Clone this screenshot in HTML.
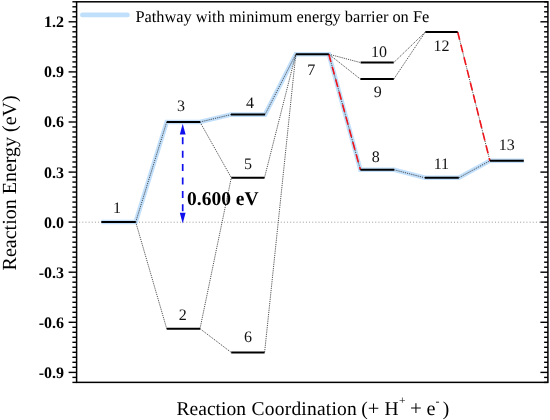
<!DOCTYPE html><html><head><meta charset="utf-8"><style>html,body{margin:0;padding:0;background:#fff;width:550px;height:420px;overflow:hidden}svg{display:block;will-change:transform}text{font-family:"Liberation Serif",serif;text-rendering:geometricPrecision}</style></head><body>
<svg width="550" height="420" viewBox="0 0 550 420">
<rect width="550" height="420" fill="#fff"/>
<line x1="76.6" y1="222.2" x2="547.9" y2="222.2" stroke="#9a9a9a" stroke-width="1" stroke-dasharray="1 2.15" stroke-dashoffset="0.6"/>
<polyline points="101.3,222.0 135.7,222.0 166.7,122.0 200.0,122.0 231.0,114.6 265.0,114.6 295.8,54.2 328.8,54.2 360.4,169.8 394.2,169.8 424.9,177.8 458.8,177.8 489.9,160.8 523.8,160.8" fill="none" stroke="#c2e0fb" stroke-width="4.6" stroke-linejoin="miter" stroke-linecap="butt"/>
<line x1="135.7" y1="222.0" x2="166.7" y2="122.0" stroke="#333" stroke-width="0.85" stroke-dasharray="1.2 1.0"/>
<line x1="135.7" y1="222.0" x2="166.7" y2="328.7" stroke="#333" stroke-width="0.85" stroke-dasharray="1.2 1.0"/>
<line x1="200.0" y1="122.0" x2="231.0" y2="114.6" stroke="#333" stroke-width="0.85" stroke-dasharray="1.2 1.0"/>
<line x1="200.0" y1="122.0" x2="231.3" y2="177.7" stroke="#333" stroke-width="0.85" stroke-dasharray="1.2 1.0"/>
<line x1="200.0" y1="328.7" x2="231.3" y2="177.7" stroke="#333" stroke-width="0.85" stroke-dasharray="1.2 1.0"/>
<line x1="200.0" y1="328.7" x2="231.2" y2="352.4" stroke="#333" stroke-width="0.85" stroke-dasharray="1.2 1.0"/>
<line x1="265.0" y1="114.6" x2="295.8" y2="54.2" stroke="#333" stroke-width="0.85" stroke-dasharray="1.2 1.0"/>
<line x1="264.5" y1="177.7" x2="295.8" y2="54.2" stroke="#333" stroke-width="0.85" stroke-dasharray="1.2 1.0"/>
<line x1="264.6" y1="352.4" x2="295.8" y2="54.2" stroke="#333" stroke-width="0.85" stroke-dasharray="1.2 1.0"/>
<line x1="328.8" y1="54.2" x2="360.4" y2="169.8" stroke="#333" stroke-width="0.85" stroke-dasharray="1.2 1.0"/>
<line x1="328.8" y1="54.2" x2="360.4" y2="79.1" stroke="#333" stroke-width="0.85" stroke-dasharray="1.2 1.0"/>
<line x1="328.8" y1="54.2" x2="360.6" y2="62.6" stroke="#333" stroke-width="0.85" stroke-dasharray="1.2 1.0"/>
<line x1="393.8" y1="79.1" x2="425.3" y2="32.0" stroke="#333" stroke-width="0.85" stroke-dasharray="1.2 1.0"/>
<line x1="393.7" y1="62.6" x2="425.3" y2="32.0" stroke="#333" stroke-width="0.85" stroke-dasharray="1.2 1.0"/>
<line x1="394.2" y1="169.8" x2="424.9" y2="177.8" stroke="#333" stroke-width="0.85" stroke-dasharray="1.2 1.0"/>
<line x1="457.7" y1="32.0" x2="489.9" y2="160.8" stroke="#333" stroke-width="0.85" stroke-dasharray="1.2 1.0"/>
<line x1="458.8" y1="177.8" x2="489.9" y2="160.8" stroke="#333" stroke-width="0.85" stroke-dasharray="1.2 1.0"/>
<line x1="328.8" y1="54.2" x2="360.4" y2="169.8" stroke="#f2161c" stroke-width="1.6" stroke-dasharray="8 5"/>
<line x1="457.7" y1="32.0" x2="489.9" y2="160.8" stroke="#f2161c" stroke-width="1.6" stroke-dasharray="8 5"/>
<line x1="101.3" y1="222.0" x2="135.7" y2="222.0" stroke="#000" stroke-width="2"/>
<line x1="166.7" y1="328.7" x2="200.0" y2="328.7" stroke="#000" stroke-width="2"/>
<line x1="166.7" y1="122.0" x2="200.0" y2="122.0" stroke="#000" stroke-width="2"/>
<line x1="231.0" y1="114.6" x2="265.0" y2="114.6" stroke="#000" stroke-width="2"/>
<line x1="231.3" y1="177.7" x2="264.5" y2="177.7" stroke="#000" stroke-width="2"/>
<line x1="231.2" y1="352.4" x2="264.6" y2="352.4" stroke="#000" stroke-width="2"/>
<line x1="295.8" y1="54.2" x2="328.8" y2="54.2" stroke="#000" stroke-width="2"/>
<line x1="360.4" y1="169.8" x2="394.2" y2="169.8" stroke="#000" stroke-width="2"/>
<line x1="360.4" y1="79.1" x2="393.8" y2="79.1" stroke="#000" stroke-width="2"/>
<line x1="360.6" y1="62.6" x2="393.7" y2="62.6" stroke="#000" stroke-width="2"/>
<line x1="424.9" y1="177.8" x2="458.8" y2="177.8" stroke="#000" stroke-width="2"/>
<line x1="425.3" y1="32.0" x2="457.7" y2="32.0" stroke="#000" stroke-width="2"/>
<line x1="489.9" y1="160.8" x2="523.8" y2="160.8" stroke="#000" stroke-width="2"/>
<text x="117.0" y="213.2" font-size="16" text-anchor="middle" fill="#111">1</text>
<text x="182.7" y="320.1" font-size="16" text-anchor="middle" fill="#111">2</text>
<text x="181.1" y="111.4" font-size="16" text-anchor="middle" fill="#111">3</text>
<text x="249.9" y="108.1" font-size="16" text-anchor="middle" fill="#111">4</text>
<text x="247.9" y="168.6" font-size="16" text-anchor="middle" fill="#111">5</text>
<text x="247.9" y="341.8" font-size="16" text-anchor="middle" fill="#111">6</text>
<text x="311.3" y="74.5" font-size="16" text-anchor="middle" fill="#111">7</text>
<text x="375.7" y="161.8" font-size="16" text-anchor="middle" fill="#111">8</text>
<text x="377.7" y="97.4" font-size="16" text-anchor="middle" fill="#111">9</text>
<text x="378.9" y="57.2" font-size="16" text-anchor="middle" fill="#111">10</text>
<text x="441.4" y="169.3" font-size="16" text-anchor="middle" fill="#111">11</text>
<text x="441.6" y="51.0" font-size="16" text-anchor="middle" fill="#111">12</text>
<text x="506.8" y="150.3" font-size="16" text-anchor="middle" fill="#111">13</text>
<line x1="182.7" y1="137.3" x2="182.7" y2="212" stroke="#1010ee" stroke-width="1.7" stroke-dasharray="7 6.4"/>
<polygon points="182.7,123.8 179.79999999999998,134.6 185.6,134.6" fill="#1010ee"/>
<polygon points="182.7,223.5 179.79999999999998,212.8 185.6,212.8" fill="#1010ee"/>
<text x="187" y="204.5" font-size="19.5" font-weight="bold" fill="#000">0.600 eV</text>
<rect x="76.6" y="1.8" width="471.30" height="380.57" fill="none" stroke="#000" stroke-width="1.5"/>
<line x1="72.4" y1="1.8" x2="76.6" y2="1.8" stroke="#000" stroke-width="1.4"/>
<line x1="544.1" y1="1.8" x2="547.9" y2="1.8" stroke="#000" stroke-width="1.4"/>
<line x1="72.4" y1="6.8" x2="76.6" y2="6.8" stroke="#000" stroke-width="1.4"/>
<line x1="544.1" y1="6.8" x2="547.9" y2="6.8" stroke="#000" stroke-width="1.4"/>
<line x1="72.4" y1="11.8" x2="76.6" y2="11.8" stroke="#000" stroke-width="1.4"/>
<line x1="544.1" y1="11.8" x2="547.9" y2="11.8" stroke="#000" stroke-width="1.4"/>
<line x1="72.4" y1="16.8" x2="76.6" y2="16.8" stroke="#000" stroke-width="1.4"/>
<line x1="544.1" y1="16.8" x2="547.9" y2="16.8" stroke="#000" stroke-width="1.4"/>
<line x1="68.6" y1="21.8" x2="76.6" y2="21.8" stroke="#000" stroke-width="1.4"/>
<line x1="540.4" y1="21.8" x2="547.9" y2="21.8" stroke="#000" stroke-width="1.4"/>
<line x1="72.4" y1="26.8" x2="76.6" y2="26.8" stroke="#000" stroke-width="1.4"/>
<line x1="544.1" y1="26.8" x2="547.9" y2="26.8" stroke="#000" stroke-width="1.4"/>
<line x1="72.4" y1="31.8" x2="76.6" y2="31.8" stroke="#000" stroke-width="1.4"/>
<line x1="544.1" y1="31.8" x2="547.9" y2="31.8" stroke="#000" stroke-width="1.4"/>
<line x1="72.4" y1="36.9" x2="76.6" y2="36.9" stroke="#000" stroke-width="1.4"/>
<line x1="544.1" y1="36.9" x2="547.9" y2="36.9" stroke="#000" stroke-width="1.4"/>
<line x1="72.4" y1="41.9" x2="76.6" y2="41.9" stroke="#000" stroke-width="1.4"/>
<line x1="544.1" y1="41.9" x2="547.9" y2="41.9" stroke="#000" stroke-width="1.4"/>
<line x1="72.4" y1="46.9" x2="76.6" y2="46.9" stroke="#000" stroke-width="1.4"/>
<line x1="544.1" y1="46.9" x2="547.9" y2="46.9" stroke="#000" stroke-width="1.4"/>
<line x1="72.4" y1="51.9" x2="76.6" y2="51.9" stroke="#000" stroke-width="1.4"/>
<line x1="544.1" y1="51.9" x2="547.9" y2="51.9" stroke="#000" stroke-width="1.4"/>
<line x1="72.4" y1="56.9" x2="76.6" y2="56.9" stroke="#000" stroke-width="1.4"/>
<line x1="544.1" y1="56.9" x2="547.9" y2="56.9" stroke="#000" stroke-width="1.4"/>
<line x1="72.4" y1="61.9" x2="76.6" y2="61.9" stroke="#000" stroke-width="1.4"/>
<line x1="544.1" y1="61.9" x2="547.9" y2="61.9" stroke="#000" stroke-width="1.4"/>
<line x1="72.4" y1="66.9" x2="76.6" y2="66.9" stroke="#000" stroke-width="1.4"/>
<line x1="544.1" y1="66.9" x2="547.9" y2="66.9" stroke="#000" stroke-width="1.4"/>
<line x1="68.6" y1="71.9" x2="76.6" y2="71.9" stroke="#000" stroke-width="1.4"/>
<line x1="540.4" y1="71.9" x2="547.9" y2="71.9" stroke="#000" stroke-width="1.4"/>
<line x1="72.4" y1="76.9" x2="76.6" y2="76.9" stroke="#000" stroke-width="1.4"/>
<line x1="544.1" y1="76.9" x2="547.9" y2="76.9" stroke="#000" stroke-width="1.4"/>
<line x1="72.4" y1="81.9" x2="76.6" y2="81.9" stroke="#000" stroke-width="1.4"/>
<line x1="544.1" y1="81.9" x2="547.9" y2="81.9" stroke="#000" stroke-width="1.4"/>
<line x1="72.4" y1="86.9" x2="76.6" y2="86.9" stroke="#000" stroke-width="1.4"/>
<line x1="544.1" y1="86.9" x2="547.9" y2="86.9" stroke="#000" stroke-width="1.4"/>
<line x1="72.4" y1="91.9" x2="76.6" y2="91.9" stroke="#000" stroke-width="1.4"/>
<line x1="544.1" y1="91.9" x2="547.9" y2="91.9" stroke="#000" stroke-width="1.4"/>
<line x1="72.4" y1="96.9" x2="76.6" y2="96.9" stroke="#000" stroke-width="1.4"/>
<line x1="544.1" y1="96.9" x2="547.9" y2="96.9" stroke="#000" stroke-width="1.4"/>
<line x1="72.4" y1="102.0" x2="76.6" y2="102.0" stroke="#000" stroke-width="1.4"/>
<line x1="544.1" y1="102.0" x2="547.9" y2="102.0" stroke="#000" stroke-width="1.4"/>
<line x1="72.4" y1="107.0" x2="76.6" y2="107.0" stroke="#000" stroke-width="1.4"/>
<line x1="544.1" y1="107.0" x2="547.9" y2="107.0" stroke="#000" stroke-width="1.4"/>
<line x1="72.4" y1="112.0" x2="76.6" y2="112.0" stroke="#000" stroke-width="1.4"/>
<line x1="544.1" y1="112.0" x2="547.9" y2="112.0" stroke="#000" stroke-width="1.4"/>
<line x1="72.4" y1="117.0" x2="76.6" y2="117.0" stroke="#000" stroke-width="1.4"/>
<line x1="544.1" y1="117.0" x2="547.9" y2="117.0" stroke="#000" stroke-width="1.4"/>
<line x1="68.6" y1="122.0" x2="76.6" y2="122.0" stroke="#000" stroke-width="1.4"/>
<line x1="540.4" y1="122.0" x2="547.9" y2="122.0" stroke="#000" stroke-width="1.4"/>
<line x1="72.4" y1="127.0" x2="76.6" y2="127.0" stroke="#000" stroke-width="1.4"/>
<line x1="544.1" y1="127.0" x2="547.9" y2="127.0" stroke="#000" stroke-width="1.4"/>
<line x1="72.4" y1="132.0" x2="76.6" y2="132.0" stroke="#000" stroke-width="1.4"/>
<line x1="544.1" y1="132.0" x2="547.9" y2="132.0" stroke="#000" stroke-width="1.4"/>
<line x1="72.4" y1="137.0" x2="76.6" y2="137.0" stroke="#000" stroke-width="1.4"/>
<line x1="544.1" y1="137.0" x2="547.9" y2="137.0" stroke="#000" stroke-width="1.4"/>
<line x1="72.4" y1="142.0" x2="76.6" y2="142.0" stroke="#000" stroke-width="1.4"/>
<line x1="544.1" y1="142.0" x2="547.9" y2="142.0" stroke="#000" stroke-width="1.4"/>
<line x1="72.4" y1="147.0" x2="76.6" y2="147.0" stroke="#000" stroke-width="1.4"/>
<line x1="544.1" y1="147.0" x2="547.9" y2="147.0" stroke="#000" stroke-width="1.4"/>
<line x1="72.4" y1="152.0" x2="76.6" y2="152.0" stroke="#000" stroke-width="1.4"/>
<line x1="544.1" y1="152.0" x2="547.9" y2="152.0" stroke="#000" stroke-width="1.4"/>
<line x1="72.4" y1="157.0" x2="76.6" y2="157.0" stroke="#000" stroke-width="1.4"/>
<line x1="544.1" y1="157.0" x2="547.9" y2="157.0" stroke="#000" stroke-width="1.4"/>
<line x1="72.4" y1="162.0" x2="76.6" y2="162.0" stroke="#000" stroke-width="1.4"/>
<line x1="544.1" y1="162.0" x2="547.9" y2="162.0" stroke="#000" stroke-width="1.4"/>
<line x1="72.4" y1="167.0" x2="76.6" y2="167.0" stroke="#000" stroke-width="1.4"/>
<line x1="544.1" y1="167.0" x2="547.9" y2="167.0" stroke="#000" stroke-width="1.4"/>
<line x1="68.6" y1="172.1" x2="76.6" y2="172.1" stroke="#000" stroke-width="1.4"/>
<line x1="540.4" y1="172.1" x2="547.9" y2="172.1" stroke="#000" stroke-width="1.4"/>
<line x1="72.4" y1="177.1" x2="76.6" y2="177.1" stroke="#000" stroke-width="1.4"/>
<line x1="544.1" y1="177.1" x2="547.9" y2="177.1" stroke="#000" stroke-width="1.4"/>
<line x1="72.4" y1="182.1" x2="76.6" y2="182.1" stroke="#000" stroke-width="1.4"/>
<line x1="544.1" y1="182.1" x2="547.9" y2="182.1" stroke="#000" stroke-width="1.4"/>
<line x1="72.4" y1="187.1" x2="76.6" y2="187.1" stroke="#000" stroke-width="1.4"/>
<line x1="544.1" y1="187.1" x2="547.9" y2="187.1" stroke="#000" stroke-width="1.4"/>
<line x1="72.4" y1="192.1" x2="76.6" y2="192.1" stroke="#000" stroke-width="1.4"/>
<line x1="544.1" y1="192.1" x2="547.9" y2="192.1" stroke="#000" stroke-width="1.4"/>
<line x1="72.4" y1="197.1" x2="76.6" y2="197.1" stroke="#000" stroke-width="1.4"/>
<line x1="544.1" y1="197.1" x2="547.9" y2="197.1" stroke="#000" stroke-width="1.4"/>
<line x1="72.4" y1="202.1" x2="76.6" y2="202.1" stroke="#000" stroke-width="1.4"/>
<line x1="544.1" y1="202.1" x2="547.9" y2="202.1" stroke="#000" stroke-width="1.4"/>
<line x1="72.4" y1="207.1" x2="76.6" y2="207.1" stroke="#000" stroke-width="1.4"/>
<line x1="544.1" y1="207.1" x2="547.9" y2="207.1" stroke="#000" stroke-width="1.4"/>
<line x1="72.4" y1="212.1" x2="76.6" y2="212.1" stroke="#000" stroke-width="1.4"/>
<line x1="544.1" y1="212.1" x2="547.9" y2="212.1" stroke="#000" stroke-width="1.4"/>
<line x1="72.4" y1="217.1" x2="76.6" y2="217.1" stroke="#000" stroke-width="1.4"/>
<line x1="544.1" y1="217.1" x2="547.9" y2="217.1" stroke="#000" stroke-width="1.4"/>
<line x1="68.6" y1="222.1" x2="76.6" y2="222.1" stroke="#000" stroke-width="1.4"/>
<line x1="540.4" y1="222.1" x2="547.9" y2="222.1" stroke="#000" stroke-width="1.4"/>
<line x1="72.4" y1="227.1" x2="76.6" y2="227.1" stroke="#000" stroke-width="1.4"/>
<line x1="544.1" y1="227.1" x2="547.9" y2="227.1" stroke="#000" stroke-width="1.4"/>
<line x1="72.4" y1="232.1" x2="76.6" y2="232.1" stroke="#000" stroke-width="1.4"/>
<line x1="544.1" y1="232.1" x2="547.9" y2="232.1" stroke="#000" stroke-width="1.4"/>
<line x1="72.4" y1="237.2" x2="76.6" y2="237.2" stroke="#000" stroke-width="1.4"/>
<line x1="544.1" y1="237.2" x2="547.9" y2="237.2" stroke="#000" stroke-width="1.4"/>
<line x1="72.4" y1="242.2" x2="76.6" y2="242.2" stroke="#000" stroke-width="1.4"/>
<line x1="544.1" y1="242.2" x2="547.9" y2="242.2" stroke="#000" stroke-width="1.4"/>
<line x1="72.4" y1="247.2" x2="76.6" y2="247.2" stroke="#000" stroke-width="1.4"/>
<line x1="544.1" y1="247.2" x2="547.9" y2="247.2" stroke="#000" stroke-width="1.4"/>
<line x1="72.4" y1="252.2" x2="76.6" y2="252.2" stroke="#000" stroke-width="1.4"/>
<line x1="544.1" y1="252.2" x2="547.9" y2="252.2" stroke="#000" stroke-width="1.4"/>
<line x1="72.4" y1="257.2" x2="76.6" y2="257.2" stroke="#000" stroke-width="1.4"/>
<line x1="544.1" y1="257.2" x2="547.9" y2="257.2" stroke="#000" stroke-width="1.4"/>
<line x1="72.4" y1="262.2" x2="76.6" y2="262.2" stroke="#000" stroke-width="1.4"/>
<line x1="544.1" y1="262.2" x2="547.9" y2="262.2" stroke="#000" stroke-width="1.4"/>
<line x1="72.4" y1="267.2" x2="76.6" y2="267.2" stroke="#000" stroke-width="1.4"/>
<line x1="544.1" y1="267.2" x2="547.9" y2="267.2" stroke="#000" stroke-width="1.4"/>
<line x1="68.6" y1="272.2" x2="76.6" y2="272.2" stroke="#000" stroke-width="1.4"/>
<line x1="540.4" y1="272.2" x2="547.9" y2="272.2" stroke="#000" stroke-width="1.4"/>
<line x1="72.4" y1="277.2" x2="76.6" y2="277.2" stroke="#000" stroke-width="1.4"/>
<line x1="544.1" y1="277.2" x2="547.9" y2="277.2" stroke="#000" stroke-width="1.4"/>
<line x1="72.4" y1="282.2" x2="76.6" y2="282.2" stroke="#000" stroke-width="1.4"/>
<line x1="544.1" y1="282.2" x2="547.9" y2="282.2" stroke="#000" stroke-width="1.4"/>
<line x1="72.4" y1="287.2" x2="76.6" y2="287.2" stroke="#000" stroke-width="1.4"/>
<line x1="544.1" y1="287.2" x2="547.9" y2="287.2" stroke="#000" stroke-width="1.4"/>
<line x1="72.4" y1="292.2" x2="76.6" y2="292.2" stroke="#000" stroke-width="1.4"/>
<line x1="544.1" y1="292.2" x2="547.9" y2="292.2" stroke="#000" stroke-width="1.4"/>
<line x1="72.4" y1="297.2" x2="76.6" y2="297.2" stroke="#000" stroke-width="1.4"/>
<line x1="544.1" y1="297.2" x2="547.9" y2="297.2" stroke="#000" stroke-width="1.4"/>
<line x1="72.4" y1="302.3" x2="76.6" y2="302.3" stroke="#000" stroke-width="1.4"/>
<line x1="544.1" y1="302.3" x2="547.9" y2="302.3" stroke="#000" stroke-width="1.4"/>
<line x1="72.4" y1="307.3" x2="76.6" y2="307.3" stroke="#000" stroke-width="1.4"/>
<line x1="544.1" y1="307.3" x2="547.9" y2="307.3" stroke="#000" stroke-width="1.4"/>
<line x1="72.4" y1="312.3" x2="76.6" y2="312.3" stroke="#000" stroke-width="1.4"/>
<line x1="544.1" y1="312.3" x2="547.9" y2="312.3" stroke="#000" stroke-width="1.4"/>
<line x1="72.4" y1="317.3" x2="76.6" y2="317.3" stroke="#000" stroke-width="1.4"/>
<line x1="544.1" y1="317.3" x2="547.9" y2="317.3" stroke="#000" stroke-width="1.4"/>
<line x1="68.6" y1="322.3" x2="76.6" y2="322.3" stroke="#000" stroke-width="1.4"/>
<line x1="540.4" y1="322.3" x2="547.9" y2="322.3" stroke="#000" stroke-width="1.4"/>
<line x1="72.4" y1="327.3" x2="76.6" y2="327.3" stroke="#000" stroke-width="1.4"/>
<line x1="544.1" y1="327.3" x2="547.9" y2="327.3" stroke="#000" stroke-width="1.4"/>
<line x1="72.4" y1="332.3" x2="76.6" y2="332.3" stroke="#000" stroke-width="1.4"/>
<line x1="544.1" y1="332.3" x2="547.9" y2="332.3" stroke="#000" stroke-width="1.4"/>
<line x1="72.4" y1="337.3" x2="76.6" y2="337.3" stroke="#000" stroke-width="1.4"/>
<line x1="544.1" y1="337.3" x2="547.9" y2="337.3" stroke="#000" stroke-width="1.4"/>
<line x1="72.4" y1="342.3" x2="76.6" y2="342.3" stroke="#000" stroke-width="1.4"/>
<line x1="544.1" y1="342.3" x2="547.9" y2="342.3" stroke="#000" stroke-width="1.4"/>
<line x1="72.4" y1="347.3" x2="76.6" y2="347.3" stroke="#000" stroke-width="1.4"/>
<line x1="544.1" y1="347.3" x2="547.9" y2="347.3" stroke="#000" stroke-width="1.4"/>
<line x1="72.4" y1="352.3" x2="76.6" y2="352.3" stroke="#000" stroke-width="1.4"/>
<line x1="544.1" y1="352.3" x2="547.9" y2="352.3" stroke="#000" stroke-width="1.4"/>
<line x1="72.4" y1="357.3" x2="76.6" y2="357.3" stroke="#000" stroke-width="1.4"/>
<line x1="544.1" y1="357.3" x2="547.9" y2="357.3" stroke="#000" stroke-width="1.4"/>
<line x1="72.4" y1="362.3" x2="76.6" y2="362.3" stroke="#000" stroke-width="1.4"/>
<line x1="544.1" y1="362.3" x2="547.9" y2="362.3" stroke="#000" stroke-width="1.4"/>
<line x1="72.4" y1="367.3" x2="76.6" y2="367.3" stroke="#000" stroke-width="1.4"/>
<line x1="544.1" y1="367.3" x2="547.9" y2="367.3" stroke="#000" stroke-width="1.4"/>
<line x1="68.6" y1="372.4" x2="76.6" y2="372.4" stroke="#000" stroke-width="1.4"/>
<line x1="540.4" y1="372.4" x2="547.9" y2="372.4" stroke="#000" stroke-width="1.4"/>
<line x1="72.4" y1="377.4" x2="76.6" y2="377.4" stroke="#000" stroke-width="1.4"/>
<line x1="544.1" y1="377.4" x2="547.9" y2="377.4" stroke="#000" stroke-width="1.4"/>
<line x1="72.4" y1="382.4" x2="76.6" y2="382.4" stroke="#000" stroke-width="1.4"/>
<line x1="544.1" y1="382.4" x2="547.9" y2="382.4" stroke="#000" stroke-width="1.4"/>
<text x="64.1" y="27.2" font-size="16" font-weight="bold" text-anchor="end" fill="#000">1.2</text>
<text x="64.1" y="77.3" font-size="16" font-weight="bold" text-anchor="end" fill="#000">0.9</text>
<text x="64.1" y="127.4" font-size="16" font-weight="bold" text-anchor="end" fill="#000">0.6</text>
<text x="64.1" y="177.5" font-size="16" font-weight="bold" text-anchor="end" fill="#000">0.3</text>
<text x="64.1" y="227.5" font-size="16" font-weight="bold" text-anchor="end" fill="#000">0.0</text>
<text x="64.1" y="277.6" font-size="16" font-weight="bold" text-anchor="end" fill="#000">-0.3</text>
<text x="64.1" y="327.7" font-size="16" font-weight="bold" text-anchor="end" fill="#000">-0.6</text>
<text x="64.1" y="377.8" font-size="16" font-weight="bold" text-anchor="end" fill="#000">-0.9</text>
<line x1="82.4" y1="14.9" x2="127.4" y2="14.9" stroke="#c0dffb" stroke-width="4.8" stroke-linecap="round"/>
<text x="135.4" y="21.9" font-size="16.35" fill="#000">Pathway with minimum energy barrier on Fe</text>
<text transform="translate(15.7,270.4) rotate(-90)" font-size="20" fill="#000">Reaction Energy (eV)</text>
<text x="176.6" y="414.8" font-size="19.5" text-anchor="start" fill="#000">Reaction</text>
<text x="251.6" y="414.8" font-size="19.5" text-anchor="start" letter-spacing="0.2" fill="#000">Coordination</text>
<text x="364.4" y="414.8" font-size="19.5" text-anchor="middle" fill="#000">(</text>
<text x="373.5" y="414.8" font-size="20.5" text-anchor="middle" fill="#000">+</text>
<text x="391.6" y="414.8" font-size="19.5" text-anchor="middle" fill="#000">H</text>
<text x="402.2" y="404.4" font-size="11.5" text-anchor="middle" fill="#000">+</text>
<text x="416.0" y="415.2" font-size="21" text-anchor="middle" fill="#000">+</text>
<text x="431.0" y="414.8" font-size="20.3" text-anchor="middle" fill="#000">e</text>
<text x="437.4" y="404.9" font-size="12" text-anchor="middle" fill="#000">-</text>
<text x="446.0" y="414.8" font-size="19.5" text-anchor="middle" fill="#000">)</text>
</svg></body></html>
